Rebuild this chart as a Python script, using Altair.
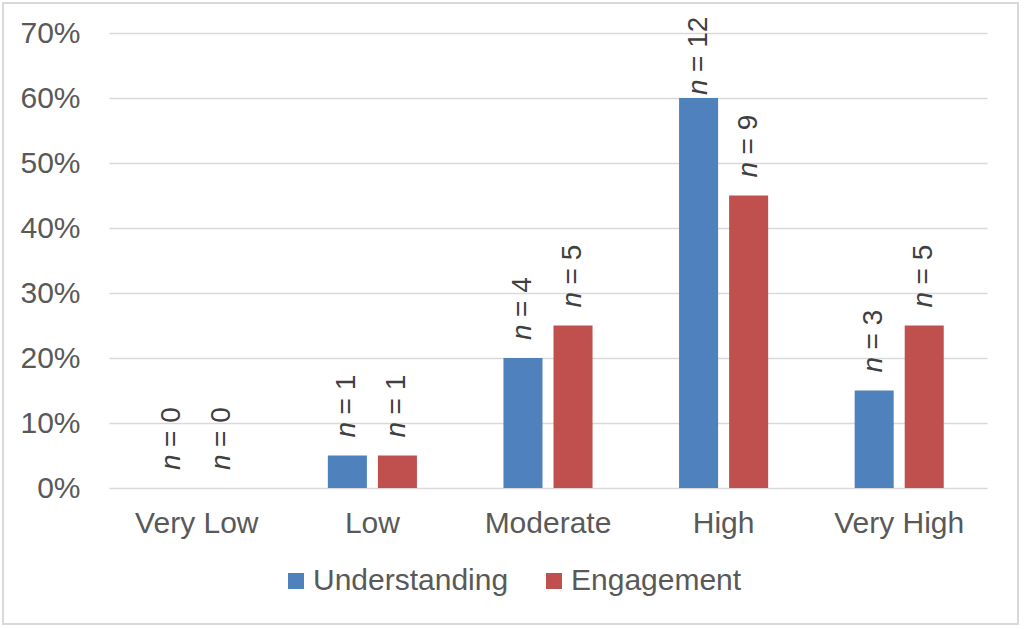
import altair as alt
import pandas as pd

categories = ["Very Low", "Low", "Moderate", "High", "Very High"]
series = ["Understanding", "Engagement"]
understanding_pct = [0, 5, 20, 60, 15]
engagement_pct = [0, 5, 25, 45, 25]
understanding_n = [0, 1, 4, 12, 3]
engagement_n = [0, 1, 5, 9, 5]
colors = ["#4F81BD", "#C0504D"]
y_ticks = [0, 0.1, 0.2, 0.3, 0.4, 0.5, 0.6, 0.7]

rows = []
for i, c in enumerate(categories):
    rows.append(dict(category=c, series=series[0], value=understanding_pct[i] / 100,
                     label="= %d" % understanding_n[i]))
    rows.append(dict(category=c, series=series[1], value=engagement_pct[i] / 100,
                     label="= %d" % engagement_n[i]))
df = pd.DataFrame(rows)

FONT = "Liberation Sans"
AXIS_COLOR = "#595959"
LABEL_COLOR = "#404040"

x = alt.X("category:N", sort=categories,
          scale=alt.Scale(paddingInner=0.43, paddingOuter=0.215),
          axis=alt.Axis(title=None, labelAngle=0, labelFontSize=30, labelColor=AXIS_COLOR,
                        labelFont=FONT, labelPadding=20, ticks=False, domain=False,
                        labelLimit=0))
xo = alt.XOffset("series:N", sort=series,
                 scale=alt.Scale(paddingInner=0.22, paddingOuter=0.11))
y = alt.Y("value:Q", scale=alt.Scale(domain=[0, 0.7]),
          axis=alt.Axis(title=None, format=".0%", values=y_ticks, labelFontSize=30,
                        labelColor=AXIS_COLOR, labelFont=FONT, gridColor="#d9d9d9",
                        gridWidth=1.5, ticks=False, domain=False, labelPadding=29))
# labels are kept inside the plot area (as the original does for the tallest bar)
y_label = alt.Y("label_y:Q")
color = alt.Color("series:N", sort=series,
                  scale=alt.Scale(domain=series, range=colors),
                  legend=alt.Legend(title=None, orient="none", legendX=172, legendY=533,
                                    direction="horizontal", symbolType="square",
                                    symbolSize=256, symbolStrokeWidth=0,
                                    labelFontSize=30, labelColor=AXIS_COLOR, labelFont=FONT,
                                    labelLimit=0, columnPadding=30, labelOffset=2, padding=0))

bars = alt.Chart(df).mark_bar().encode(x=x, xOffset=xo, y=y, color=color)

base_text = alt.Chart(df).transform_calculate(label_y="min(datum.value, 0.577)")

n_text = base_text.mark_text(
    text="n", angle=270, align="left", baseline="middle", dx=18, fontSize=28,
    fontStyle="italic", font=FONT, color=LABEL_COLOR
).encode(x=x, xOffset=xo, y=y_label)

rest_text = base_text.mark_text(
    angle=270, align="left", baseline="middle", dx=41, fontSize=28,
    font=FONT, color=LABEL_COLOR
).encode(x=x, xOffset=xo, y=y_label, text="label:N")

border = alt.Chart(pd.DataFrame({"a": [0]})).mark_rect(
    fillOpacity=0, stroke="#d9d9d9", strokeWidth=2
).encode(x=alt.value(-106), x2=alt.value(909), y=alt.value(-30), y2=alt.value(591))

chart = alt.layer(border, bars, n_text, rest_text).properties(
    width=878, height=455,
    autosize=alt.AutoSizeParams(type="none"),
    padding={"left": 109, "top": 33, "right": 37, "bottom": 141},
    background="white",
).configure_view(strokeWidth=0)

chart.save("out.html", embed_options={"renderer": "svg", "actions": False})
